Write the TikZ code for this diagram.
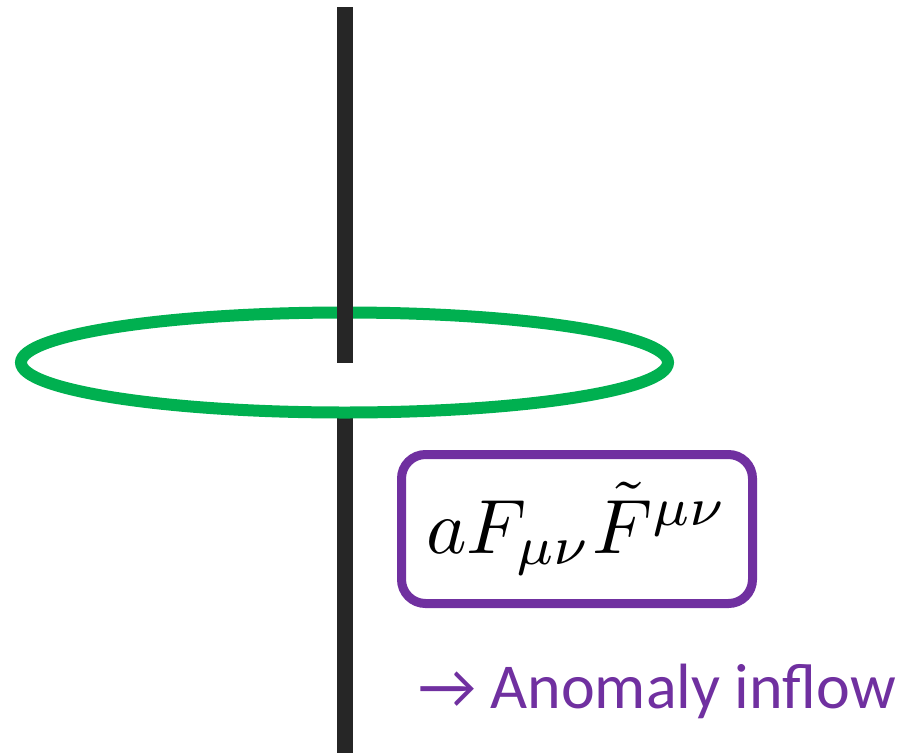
\documentclass[tikz,border=0pt]{standalone}
\usepackage{amsmath}
\usepackage{fontspec}
\newfontfamily\calfont{Carlito}
\usepackage{tikz}
\usetikzlibrary{shapes.geometric, positioning}
\definecolor{axisgray}{HTML}{262626}
\definecolor{loopgreen}{HTML}{00B050}
\definecolor{termpurple}{HTML}{7030A0}
\tikzset{
    string line/.style={draw=axisgray, line width=16pt},
    loop ring/.style={ellipse, draw=loopgreen, line width=12pt, inner sep=0pt,
        minimum width=647pt, minimum height=100pt},
    term box/.style={draw=termpurple, line width=9pt, rounded corners=24pt,
        minimum width=351pt, minimum height=149pt, inner sep=0pt},
    term label/.style={text=termpurple, font=\calfont\fontsize{64}{70}\selectfont,
        inner sep=0pt},
}

\begin{document}
\begin{tikzpicture}[x=1pt, y=-1pt]
        \useasboundingbox (0,0) rectangle (902,753);
        \coordinate (top) at (344.5,7);
        \coordinate (bottom) at (344.5,753);
        \coordinate (ringc) at (344.5,362.5);

        \draw[string line] (ringc |- 0,412) -- (bottom);
        \node[loop ring] (ring) at (ringc) {};
        \draw[string line] (top) -- (ring.center);

        \node[term box] (term) at (577,529) {};
        \node[scale=7.7, inner sep=0pt] (action) at (term.center)
            {$aF_{\mu\nu}\tilde{F}^{\mu\nu}$};

        \node[term label, anchor=base west] (inflow) at (418,708) {→ Anomaly inflow};
    \end{tikzpicture}
\end{document}
